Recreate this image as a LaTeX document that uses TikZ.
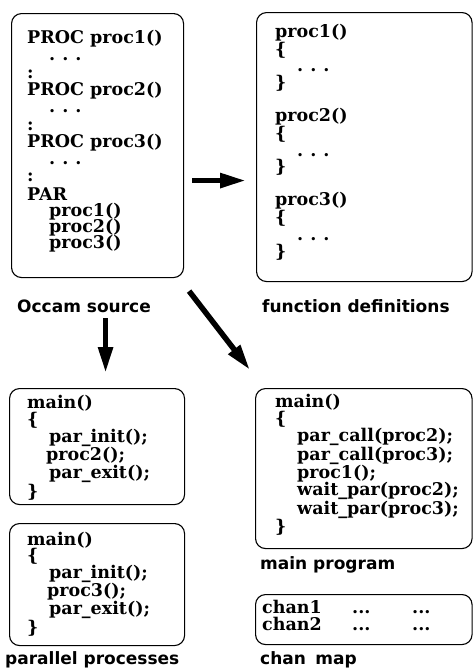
\documentclass[tikz,border=0pt]{standalone}
\usepackage{fontspec}
\newfontfamily\codefont{DejaVu Serif}
\newfontfamily\capfont{DejaVu Sans}
\usetikzlibrary{arrows.meta}
\tikzset{
  codebox/.style = {draw, line width=1.1pt, rounded corners=10pt, anchor=north west,
  inner sep=0pt},
  code/.style = {anchor=north west, inner sep=0pt, align=left,
  font=\codefont\bfseries\fontsize{17.5}{#1}\selectfont},
  code/.default = 16.6,
  caption/.style = {anchor=base west, inner sep=0pt, font=\capfont\bfseries\fontsize{17}{20}\selectfont},
  bigarrow/.style = {-{Triangle[length=26pt,width=14pt]}, line width=5.5pt}
}
\newcommand{\cin}{\hspace*{22pt}}
\newcommand{\codedots}{\cin.\hspace{7pt}.\hspace{7pt}.}
\newcommand{\chanrow}[1]{\makebox[90pt][l]{#1}\makebox[60pt][l]{...}...}

\begin{document}
\begin{tikzpicture}[x=1pt,y=-1pt]
  \useasboundingbox (0,0) rectangle (473,672);

  % the five boxes
  \node [codebox, minimum width=172pt, minimum height=264pt] (occam) at (11,13) {};
  \node [codebox, minimum width=215.5pt, minimum height=269pt] (fundefs) at (256,12) {};
  \node [codebox, minimum width=175pt, minimum height=116pt] (par2) at (9,388) {};
  \node [codebox, minimum width=175pt, minimum height=122pt] (par3) at (9,523) {};
  \node [codebox, minimum width=216.5pt, minimum height=160pt] (mainprog) at (255,388) {};
  \node [codebox, minimum width=216.5pt, minimum height=50pt] (chanmap) at (255,594) {};

  % their contents
  \node [code=17.3] (occamsrc) at ([shift={(16,17)}]occam.north west)
    {PROC proc1()\\ \codedots\\ :\\
     PROC proc2()\\ \codedots\\ :\\
     PROC proc3()\\ \codedots\\ :\\[1pt]
     PAR\\[-1.3pt]
     \cin proc1()\\[-1.3pt] \cin proc2()\\[-1.3pt] \cin proc3()};
  \node [code] (fundefsrc) at ([shift={(19,11.7)}]fundefs.north west)
    {proc1()\\ \{\\ \codedots\\ \}\\[16.6pt]
     proc2()\\ \{\\ \codedots\\ \}\\[16.6pt]
     proc3()\\ \{\\ \codedots\\ \}};
  \node [code=16] (par2src) at ([shift={(18,6.7)}]par2.north west)
    {main()\\ \{\\ \cin par\_init();\\ \hspace*{19pt}proc2();\\ \cin par\_exit();\\ \}};
  \node [code] (par3src) at ([shift={(18,8.7)}]par3.north west)
    {main()\\ \{\\ \cin par\_init();\\ \hspace*{20pt}proc3();\\ \cin par\_exit();\\ \}};
  \node [code=17.2] (mainsrc) at ([shift={(20,5.7)}]mainprog.north west)
    {main()\\ \{\\ \cin par\_call(proc2);\\ \cin par\_call(proc3);\\ \cin proc1();\\
     \cin wait\_par(proc2);\\ \cin wait\_par(proc3);\\ \}};
  \node [code=16.5] (chansrc) at ([shift={(7,6.2)}]chanmap.north west)
    {\chanrow{chan1}\\ \chanrow{chan2}};

  % captions
  \node [caption] (occamcap) at (17,312) {Occam source};
  \node [caption] (fundefscap) at (262,312) {function definitions};
  \node [caption] (parcap) at (5,664) {parallel processes};
  \node [caption] (maincap) at (260,569) {main program};
  \node [caption] (chancap) at (260,664) {chan\hspace{0.55em}map};

  % translation arrows
  \coordinate (split) at ([xshift=8.5pt]par2.north);
  \draw [bigarrow, shorten <=8pt, shorten >=10pt]
    ([yshift=-35pt]occam.east) -- ([yshift=-33.5pt]fundefs.west);
  \draw [bigarrow, shorten <=6pt, shorten >=15pt] (split |- occamcap.south) -- (split);
  \draw [bigarrow] ([shift={(5,13)}]occam.south east) -- ([shift={(-5,-18)}]mainprog.north west);
\end{tikzpicture}
\end{document}
